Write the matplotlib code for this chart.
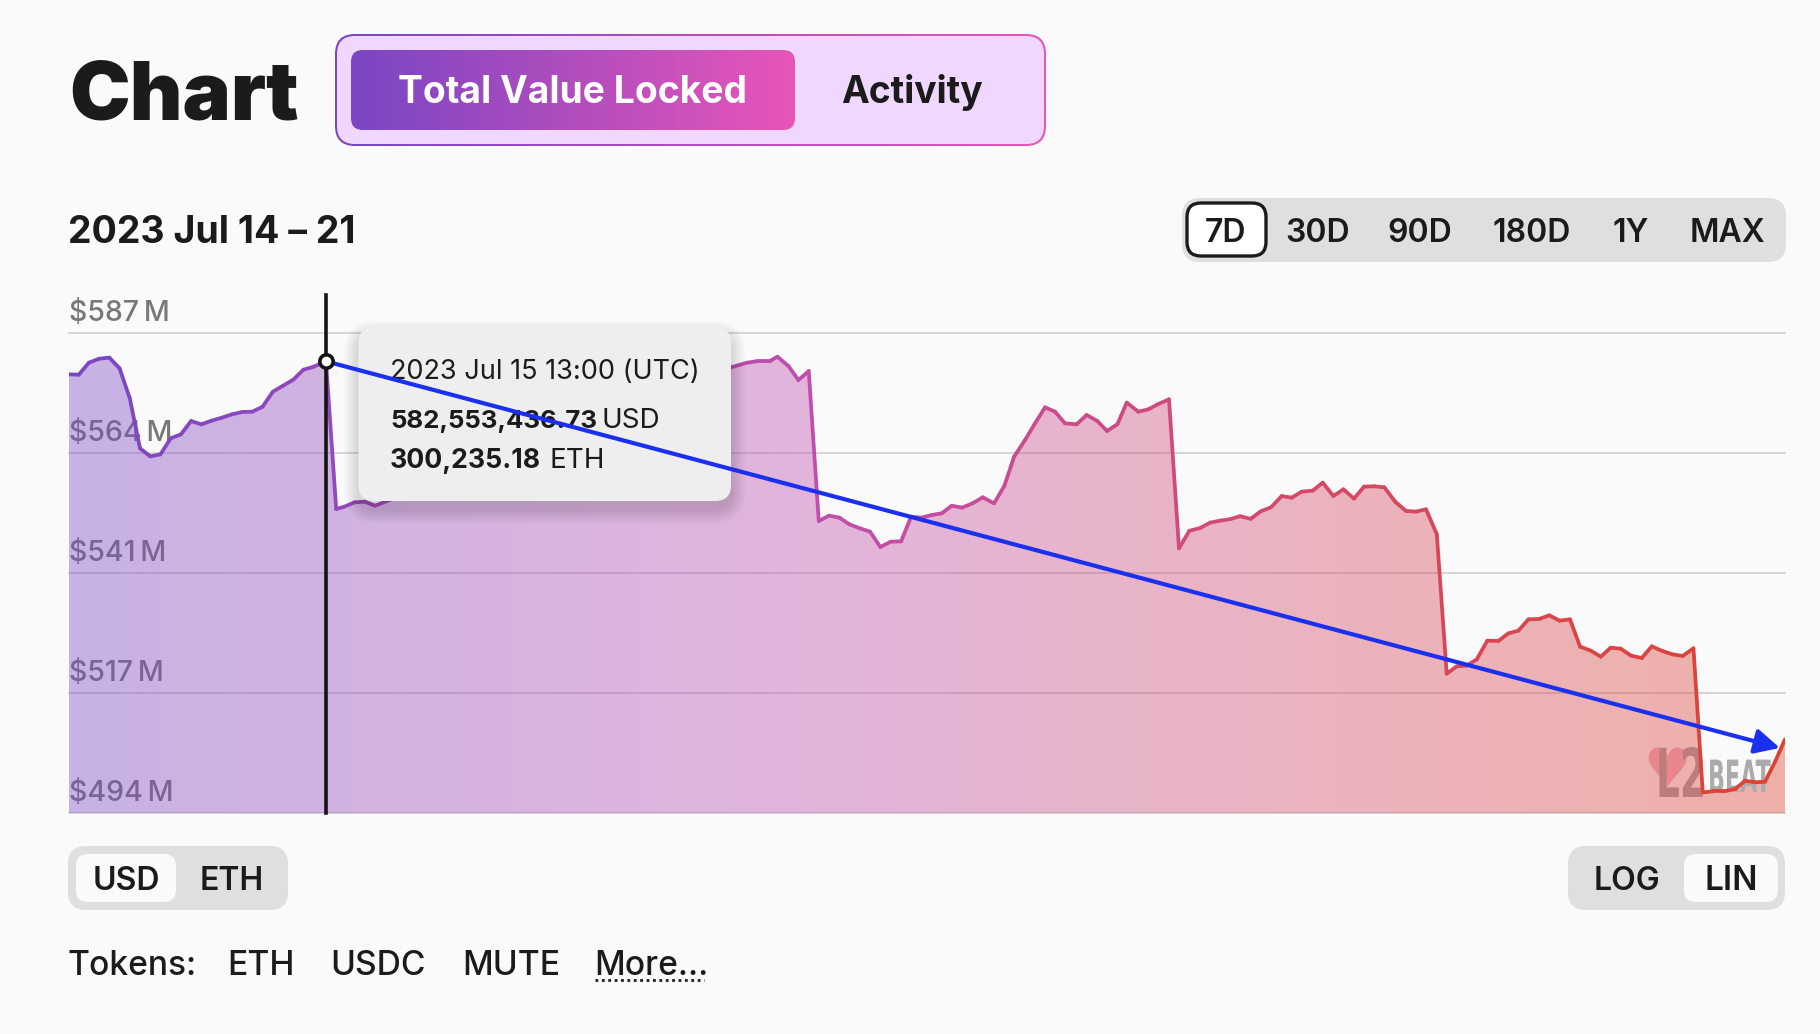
"""L2BEAT style TVL chart card, 7D view with hover tooltip."""

import matplotlib

matplotlib.use("Agg")

import matplotlib.pyplot as plt
import numpy as np
from matplotlib.collections import LineCollection
from matplotlib.colors import LinearSegmentedColormap
from matplotlib.patches import FancyBboxPatch
from matplotlib.patheffects import AbstractPathEffect
from matplotlib.transforms import Affine2D

WIDTH, HEIGHT = 1820, 1034
BG = "#fafafa"
INK = "#1b1b1b"

# hours since 2023 Jul 14 12:00, the stretch hidden by the tooltip is not read
hours = [
    0, 1, 2, 3, 4, 5, 6, 7, 8, 9, 10, 11, 12, 13, 14, 15, 16, 17, 18, 19, 20, 21, 22, 23, 24, 25.2,
    26.2, 27, 28, 29, 30,
    64.85, 66.4, 67.36, 68.6, 69.38, 70.46, 71.44, 72.45, 73.43, 74.44, 75.45, 76.43, 77.47,
    78.45, 79.46, 80.48, 81.49, 82.47, 83.48, 84.49, 85.47, 86.45, 87.46, 88.47, 89.48, 90.59,
    91.6, 92.55, 93.62, 94.6, 95.58, 96.55, 97.53, 98.67, 99.65, 100.7, 101.64, 102.66, 103.57,
    104.71, 105.69, 106.67, 107.71, 108.69, 109.7, 110.75, 111.73, 112.71, 113.69, 114.66,
    115.71, 116.69, 117.7, 118.74, 119.72, 120.7, 121.78, 122.76, 123.8, 124.78, 125.82, 126.8,
    127.81, 128.79, 129.84, 130.91, 131.89, 132.87, 133.92, 134.89, 135.87, 136.85, 137.83,
    138.87, 139.95, 140.93, 141.91, 142.89, 143.93, 144.94, 145.92, 146.96, 147.94, 148.99,
    149.97, 150.95, 151.92, 152.94, 153.98, 154.96, 156, 156.98, 157.99, 159.04, 159.95, 160.98,
    162.04, 163.12, 164.1, 165.08, 166.05, 167.03, 168,
]
tvl_musd = [
    578.99, 578.92, 581.25, 582.02, 582.22, 580.15, 574.34, 564.65, 563.10, 563.49, 566.59,
    567.36, 569.95, 569.30, 570.01, 570.59, 571.24, 571.69, 571.76, 572.72, 575.63, 576.79,
    577.96, 579.89, 580.47, 581.51,
    552.90, 553.35, 554.19, 554.32, 553.54,
    580.34, 581.25, 581.51, 581.51, 582.41, 580.60, 577.89, 579.63, 550.57, 551.61, 551.22,
    549.93, 549.15, 548.51, 545.54, 546.57, 546.63, 551.41, 551.22, 551.74, 552.06, 553.54,
    553.16, 553.99, 555.16, 553.99,
    557.40, 563.04, 566.27, 569.50, 572.60, 571.76, 569.50, 569.31, 571.12, 569.95, 568.02,
    569.31, 573.51, 571.76, 572.21, 573.25, 574.15, 545.28, 548.68, 549.20, 550.26, 550.64,
    550.93, 551.50, 551.00, 552.45, 553.23, 555.42, 555.10, 556.26, 556.46, 558.01, 555.42,
    556.71, 554.91, 557.23, 557.30, 557.10, 554.33, 552.52, 552.39, 552.84, 548.00, 520.99,
    522.42, 522.55, 523.77, 527.39, 527.33, 528.81, 529.33, 531.52, 531.59, 532.30, 531.27,
    531.52, 526.23, 525.45, 524.29, 526.03, 525.84, 524.48, 524.03, 526.29, 525.39, 524.74,
    524.42, 525.91, 498.00, 498.20, 498.20, 498.65, 500.26, 499.94, 500.07, 503.94, 508.27,
]

grid_values = [494, 517.25, 540.5, 563.75, 587]
grid_labels = ["$494\u2009M", "$517\u2009M", "$541\u2009M", "$564\u2009M", "$587\u2009M"]

hover_hour = 25.2
hover_value = 581.51
hover_top = 594.4
arrow_end = (167.5, 506.6)

ranges = ["7D", "30D", "90D", "180D", "1Y", "MAX"]
range_centers = [1226, 1318, 1420, 1532, 1631, 1727]
tokens = ["Tokens:", "ETH", "USDC", "MUTE", "More..."]
token_lefts = [67.5, 227, 330, 462, 594]

plt.rcParams["font.family"] = ["Inter", "DejaVu Sans"]

line_cmap = LinearSegmentedColormap.from_list(
    "tvl",
    [(0, "#7a46c4"), (0.45, "#c24eac"), (0.7, "#d44a6c"), (1, "#dd4230")],
)
pill_cmap = LinearSegmentedColormap.from_list("pill", ["#7a46c4", "#e855b8"])


class TallText(AbstractPathEffect):
    """Stretch glyphs upward from a baseline given in pixels from the top."""

    def __init__(self, factor, baseline):
        super().__init__()
        self.factor = factor
        self.baseline = HEIGHT - baseline

    def draw_path(self, renderer, gc, tpath, affine, rgbFace=None):
        stretch = Affine2D().translate(0, -self.baseline).scale(1, self.factor).translate(0, self.baseline)
        renderer.draw_path(gc, tpath, affine + stretch, rgbFace)


fig = plt.figure(figsize=(WIDTH / 100, HEIGHT / 100), dpi=100, facecolor=BG)

# chart area, 68.5..1785 px wide and 333..813 px down
ax = fig.add_axes([68.5 / WIDTH, (HEIGHT - 813) / HEIGHT, 1716.5 / WIDTH, 480 / HEIGHT])
ax.axis("off")
ax.set_zorder(1)

# pixel layer for the page furniture
ui = fig.add_axes([0, 0, 1, 1])
ui.axis("off")
ui.set_zorder(5)


def box(x0, y0, x1, y1, radius, **kwargs):
    patch = FancyBboxPatch(
        (x0, y0), x1 - x0, y1 - y0,
        boxstyle=f"round,pad=0,rounding_size={radius}",
        **kwargs,
    )
    ui.add_patch(patch)
    return patch


def gradient_box(x0, y0, x1, y1, radius, zorder):
    patch = box(x0, y0, x1, y1, radius, facecolor="none", edgecolor="none", zorder=zorder)
    image = ui.imshow(
        np.linspace(0, 1, 256)[None, :],
        cmap=pill_cmap,
        extent=[x0, x1, y1, y0],
        aspect="auto",
        zorder=zorder,
    )
    image.set_clip_path(patch)


# grid and tick labels sit under the translucent fill
for value, label in zip(grid_values, grid_labels):
    ax.axhline(value, color="#cfcfcf", linewidth=1.2, zorder=1, clip_on=False)
    ax.annotate(
        label,
        xy=(0, value),
        xycoords=("axes fraction", "data"),
        xytext=(0.3, 8.6),
        textcoords="offset points",
        va="baseline",
        fontsize=20.5,
        fontweight="medium",
        color="#787878",
        zorder=1,
        annotation_clip=False,
    )

hours_arr = np.array(hours)
tvl_arr = np.array(tvl_musd)

area = ax.fill_between(hours_arr, tvl_arr, grid_values[0], facecolor="none", edgecolor="none")
fill = ax.imshow(
    np.linspace(0, 1, 512)[None, :],
    cmap=line_cmap,
    extent=[0, 168, grid_values[0], grid_values[-1]],
    aspect="auto",
    alpha=0.4,
    zorder=2,
)
fill.set_clip_path(area.get_paths()[0], transform=ax.transData)

# watermark between fill and line
ax.text(1667, 786, "\u2665", transform=ui.transData, ha="center", va="baseline",
        fontsize=38, color="#e8868e", zorder=3, family="DejaVu Sans")
ax.text(1656, 797, "L2", transform=ui.transData, ha="left", va="baseline",
        fontsize=27, fontweight="bold", color="#bb7c7e", zorder=3, family="Liberation Sans Narrow",
        path_effects=[TallText(1.8, 797)])
ax.text(1708, 792, "BEAT", transform=ui.transData, ha="left", va="baseline",
        fontsize=16, fontweight="bold", color="#ababab", zorder=3, family="Liberation Sans Narrow",
        path_effects=[TallText(2.0, 792)])

points = np.column_stack([hours_arr, tvl_arr])
segments = np.stack([points[:-1], points[1:]], axis=1)
line = LineCollection(
    segments,
    colors=line_cmap((hours_arr[:-1] + hours_arr[1:]) / 2 / 168),
    linewidths=2.7,
    capstyle="round",
    joinstyle="round",
    zorder=4,
)
ax.add_collection(line)

ax.plot([hover_hour, hover_hour], [grid_values[0], hover_top], color="#141414",
        linewidth=2.6, clip_on=False, zorder=5)

ax.set_xlim(0, 168)
ax.set_ylim(grid_values[0], grid_values[-1])

# title row
ui.text(69, 119, "Chart", fontsize=58.5, fontweight="black", color=INK, va="baseline")
gradient_box(335, 34, 1046, 146, 20, 2)
box(337, 36, 1044, 144, 18, facecolor="#efd7fe", edgecolor="none", zorder=3)
gradient_box(351, 50, 795, 130, 12, 4)
ui.text(573, 103, "Total Value Locked", fontsize=26.8, fontweight="bold", color="white",
        ha="center", va="baseline", zorder=6)
ui.text(912, 103, "Activity", fontsize=26.8, fontweight="bold", color=INK,
        ha="center", va="baseline", zorder=6)

ui.text(68, 243, "2023 Jul 14 \u2013 21", fontsize=27, fontweight="bold", color=INK, va="baseline")

# range selector
box(1182, 198, 1786, 262, 18, facecolor="#dfdfdf", edgecolor="none", zorder=2)
box(1187, 203, 1266, 256, 14, facecolor="white", edgecolor=INK, linewidth=2.4, zorder=3)
for label, center in zip(ranges, range_centers):
    ui.text(center, 242, label, fontsize=23, fontweight="semibold", color=INK,
            ha="center", va="baseline", zorder=6)

# unit and scale toggles
box(68, 846, 288, 910, 18, facecolor="#dfdfdf", edgecolor="none", zorder=2)
box(76, 854, 176, 902, 12, facecolor=BG, edgecolor="none", zorder=3)
ui.text(126, 890, "USD", fontsize=23, fontweight="semibold", color=INK, ha="center", va="baseline", zorder=6)
ui.text(232, 890, "ETH", fontsize=23, fontweight="semibold", color=INK, ha="center", va="baseline", zorder=6)

box(1568, 846, 1785, 910, 18, facecolor="#dfdfdf", edgecolor="none", zorder=2)
box(1684, 854, 1778, 902, 12, facecolor=BG, edgecolor="none", zorder=3)
ui.text(1627, 890, "LOG", fontsize=23, fontweight="semibold", color=INK, ha="center", va="baseline", zorder=6)
ui.text(1731, 890, "LIN", fontsize=24, fontweight="semibold", color=INK, ha="center", va="baseline", zorder=6)

# token row
for label, left in zip(tokens, token_lefts):
    ui.text(left, 975, label, fontsize=24.2, fontweight="medium", color=INK, va="baseline", zorder=6)
ui.plot([595, 704], [979.5, 979.5], color=INK, linewidth=2, linestyle=(0, (1, 1.3)), zorder=6)

# tooltip with a soft shadow that falls downward
for grow in range(14, 0, -2):
    box(358.5 - grow, 327 - grow + 8, 731 + grow, 501 + grow + 8, 18 + grow,
        facecolor="black", alpha=0.018, edgecolor="none", zorder=7)
box(358.5, 327, 731, 501, 16, facecolor="#eeeeee", edgecolor="none", zorder=8)
ui.text(390, 379, "2023 Jul 15 13:00 (UTC)", fontsize=19.5, color=INK, va="baseline", zorder=9)
ui.text(390, 428, "582,553,436.73", fontsize=18.6, fontweight="bold", color=INK, va="baseline", zorder=9)
ui.text(602, 428, "USD", fontsize=20, color=INK, va="baseline", zorder=9)
ui.text(390, 468, "300,235.18", fontsize=19.2, fontweight="bold", color=INK, va="baseline", zorder=9)
ui.text(549, 468, "ETH", fontsize=20, color=INK, va="baseline", zorder=9)

# blue annotation runs over everything, the hover dot caps its start
ui.annotate(
    "",
    xy=arrow_end,
    xycoords=ax.transData,
    xytext=(hover_hour, hover_value),
    textcoords=ax.transData,
    arrowprops=dict(
        arrowstyle="-|>,head_length=1,head_width=0.5",
        mutation_scale=15,
        color="#1a30ee",
        linewidth=3,
        shrinkA=0,
        shrinkB=0,
    ),
    zorder=10,
)
ui.plot([hover_hour], [hover_value], "o", transform=ax.transData, markersize=9.6,
        markerfacecolor="white", markeredgecolor="#141414", markeredgewidth=2.6,
        clip_on=False, zorder=11)

ui.set_xlim(0, WIDTH)
ui.set_ylim(HEIGHT, 0)

fig.savefig("out.png", dpi=100, facecolor=BG)
plt.close(fig)
